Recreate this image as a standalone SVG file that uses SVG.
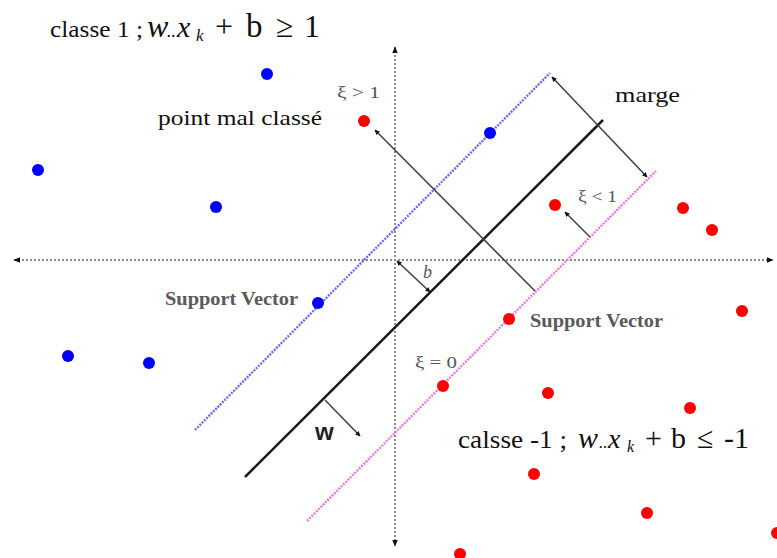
<svg xmlns="http://www.w3.org/2000/svg" width="777" height="558" viewBox="0 0 777 558">
<style>
.axis{stroke:#8a8a8a;stroke-width:2;stroke-dasharray:2 2;fill:none}
.arr{stroke:#444;stroke-width:1.6;fill:none}
.blue{fill:#0000ff}
.red{fill:#ff0000}
.lbl{font-family:"Liberation Serif","Times New Roman",serif;fill:#111}
.small{font-family:"Liberation Serif","Times New Roman",serif;fill:#555}
.sv{font-family:"Liberation Serif","Times New Roman",serif;fill:#5a5a5a;font-weight:bold}
.m{font-family:"Liberation Serif","Times New Roman",serif;fill:#111;font-style:italic}
.mr{font-family:"Liberation Serif","Times New Roman",serif;fill:#111}
</style>
<defs>
<marker id="ah" viewBox="0 0 10 10" refX="9" refY="5" markerWidth="5" markerHeight="5" orient="auto-start-reverse" markerUnits="userSpaceOnUse">
<path d="M0,0 L10,5 L0,10 z" fill="#111"/>
</marker>
<marker id="ah2" viewBox="0 0 10 10" refX="9" refY="5" markerWidth="7" markerHeight="7" orient="auto-start-reverse" markerUnits="userSpaceOnUse">
<path d="M0,1 L10,5 L0,9 z" fill="#111"/>
</marker>
</defs>
<rect width="777" height="558" fill="#ffffff"/>

<g id="axes">
<line class="axis" x1="14" y1="260" x2="773" y2="260" marker-start="url(#ah2)" marker-end="url(#ah2)"/>
<line class="axis" x1="395" y1="47" x2="395" y2="546" marker-start="url(#ah2)" marker-end="url(#ah2)"/>
</g>

<g id="hyperplanes">
<line id="margin-plus" x1="195" y1="430" x2="550" y2="73" stroke="#6a6af5" stroke-width="2.4" stroke-dasharray="2 1.2"/>
<line id="separator" x1="245" y1="477" x2="603" y2="120" stroke="#1a1a1a" stroke-width="2.5"/>
<line id="margin-minus" x1="307" y1="521" x2="656" y2="171" stroke="#e27ae2" stroke-width="2.4" stroke-dasharray="2 1.2"/>
</g>

<g id="connectors">
<line class="arr" x1="552" y1="77" x2="647" y2="177" marker-start="url(#ah)" marker-end="url(#ah)"/>
<line class="arr" x1="535" y1="291" x2="375" y2="130" marker-end="url(#ah)"/>
<line class="arr" x1="590" y1="237" x2="565" y2="212" marker-end="url(#ah)"/>
<line class="arr" x1="397" y1="261" x2="430" y2="292" marker-start="url(#ah)" marker-end="url(#ah)"/>
<line class="arr" x1="325" y1="400" x2="360" y2="436" marker-end="url(#ah)"/>
</g>

<g id="class-plus">
<circle class="blue" cx="267" cy="74" r="6"/>
<circle class="blue" cx="38" cy="170" r="6"/>
<circle class="blue" cx="216" cy="207" r="6"/>
<circle class="blue" cx="490" cy="133" r="6"/>
<circle class="blue" cx="318" cy="303" r="6"/>
<circle class="blue" cx="68" cy="356" r="6"/>
<circle class="blue" cx="149" cy="363" r="6"/>
</g>

<g id="class-minus">
<circle class="red" cx="364" cy="121" r="6"/>
<circle class="red" cx="555" cy="205" r="6"/>
<circle class="red" cx="683" cy="208" r="6"/>
<circle class="red" cx="712" cy="230" r="6"/>
<circle class="red" cx="742" cy="311" r="6"/>
<circle class="red" cx="509" cy="319" r="6"/>
<circle class="red" cx="443" cy="386" r="6"/>
<circle class="red" cx="548" cy="393" r="6"/>
<circle class="red" cx="690" cy="408" r="6"/>
<circle class="red" cx="534" cy="474" r="6"/>
<circle class="red" cx="647" cy="513" r="6"/>
<circle class="red" cx="460" cy="554" r="6"/>
<circle class="red" cx="777" cy="533" r="6"/>
</g>

<g id="label-class1">
<text class="lbl" x="50" y="37" font-size="24" textLength="93" lengthAdjust="spacingAndGlyphs">classe 1 ;</text>
<text class="m" x="147" y="37" font-size="32">w</text>
<text class="m" x="167" y="37" font-size="18">..</text>
<text class="m" x="177" y="37" font-size="30">x</text>
<text class="m" x="196" y="41" font-size="17">k</text>
<text class="mr" x="215" y="37" font-size="32">+</text>
<text class="mr" x="246" y="37" font-size="33">b</text>
<text class="mr" x="276" y="37" font-size="32">≥</text>
<text class="mr" x="304" y="37" font-size="32">1</text>
</g>

<g id="label-class-1">
<text class="lbl" x="458" y="448" font-size="26" textLength="109" lengthAdjust="spacingAndGlyphs">calsse -1 ;</text>
<text class="m" x="578" y="448" font-size="30">w</text>
<text class="m" x="599" y="448" font-size="17">..</text>
<text class="m" x="608" y="448" font-size="28">x</text>
<text class="m" x="627" y="452" font-size="16">k</text>
<text class="mr" x="645" y="448" font-size="30">+</text>
<text class="mr" x="671" y="448" font-size="30">b</text>
<text class="mr" x="697" y="448" font-size="30">≤</text>
<text class="mr" x="724" y="448" font-size="30">-1</text>
</g>

<g id="labels">
<text class="lbl" x="158" y="125" font-size="21" textLength="164" lengthAdjust="spacingAndGlyphs">point mal classé</text>
<text class="lbl" x="615" y="102" font-size="21" textLength="65" lengthAdjust="spacingAndGlyphs">marge</text>
<text class="small" x="337" y="98" font-size="16" textLength="43" lengthAdjust="spacingAndGlyphs">ξ &gt; 1</text>
<text class="small" x="578" y="202" font-size="16" textLength="39" lengthAdjust="spacingAndGlyphs">ξ &lt; 1</text>
<text class="small" x="415" y="368" font-size="16" textLength="42" lengthAdjust="spacingAndGlyphs">ξ = 0</text>
<text class="sv" x="165" y="305" font-size="18" textLength="133" lengthAdjust="spacingAndGlyphs">Support Vector</text>
<text class="sv" x="530" y="327" font-size="18" textLength="133" lengthAdjust="spacingAndGlyphs">Support Vector</text>
<text class="small" x="423" y="278" font-size="18" font-style="italic">b</text>
<text x="315" y="440" font-family="Liberation Sans, Arial, sans-serif" font-weight="bold" font-size="24" fill="#222">w</text>
</g>
</svg>
